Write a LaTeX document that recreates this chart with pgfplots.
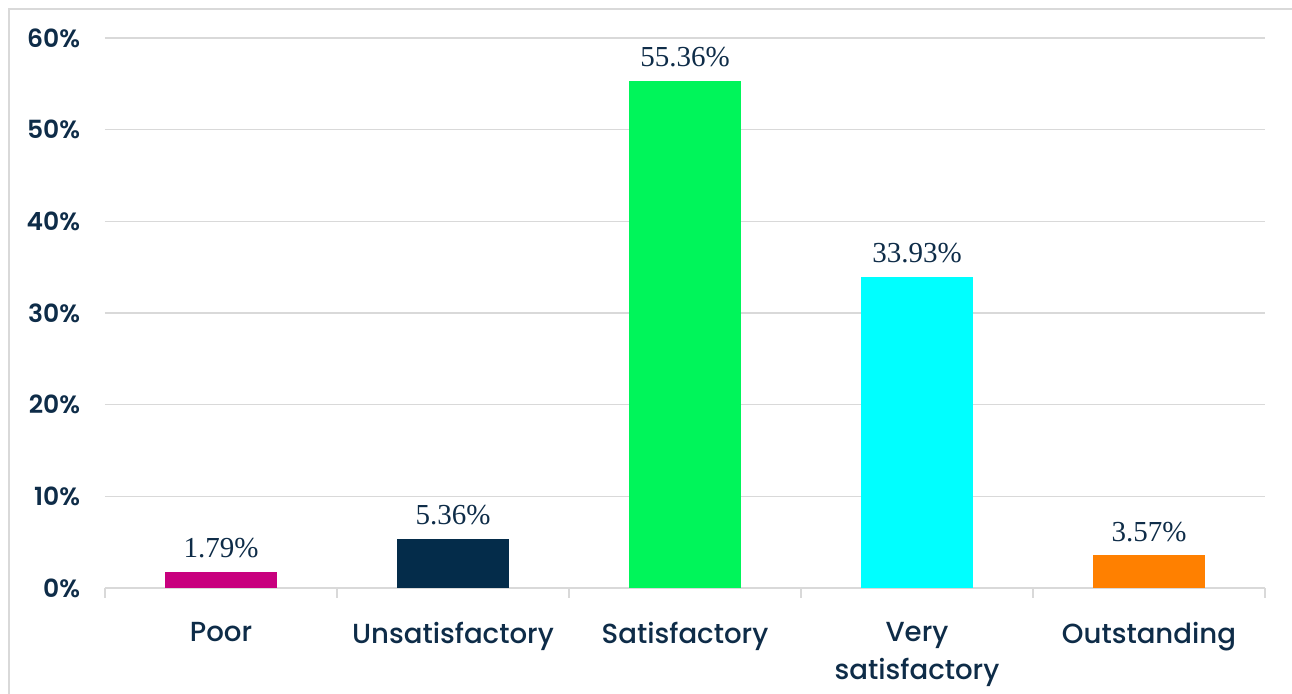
\documentclass[border=0pt]{standalone}
\usepackage{fontspec}
\setmainfont{Liberation Serif}
\newfontfamily\pop{Poppins SemiBold}
\newfontfamily\popm{Poppins Medium}
\usepackage{pgfplots}
\pgfplotsset{compat=1.18}
\definecolor{txt}{HTML}{0E2C48}
\definecolor{gridc}{HTML}{D9D9D9}
\definecolor{cpoor}{HTML}{C8007E}
\definecolor{cuns}{HTML}{042C4A}
\definecolor{csat}{HTML}{00F55A}
\definecolor{cvery}{HTML}{00FFFF}
\definecolor{cout}{HTML}{FF8000}
\begin{document}
\begin{tikzpicture}
\begin{axis}[
  at={(0,0)}, anchor=south west,
  scale only axis, width=580pt, height=275pt,
  xmin=-0.5, xmax=4.5, ymin=0, ymax=60,
  axis x line*=bottom, axis y line*=left,
  x axis line style={gridc, line width=0.75pt},
  y axis line style={draw=none},
  ybar, bar width=56pt,
  xtick={0,1,2,3,4},
  xticklabels={Poor,Unsatisfactory,Satisfactory,Very\\satisfactory,Outstanding},
  major x tick style={draw=none},
  minor xtick={-0.5,0.5,1.5,2.5,3.5,4.5},
  minor x tick style={gridc, line width=0.75pt},
  minor tick length=5pt, tick align=outside,
  xticklabel style={font=\popm\fontsize{13.8}{19}\selectfont, text=txt, align=center, anchor=north, inner sep=0pt, yshift=-12.5pt},
  ytick={0,10,...,60},
  yticklabel={\pgfmathprintnumber{\tick}\%},
  yticklabel style={font=\pop\fontsize{12.5}{15}\selectfont, text=txt, anchor=east, inner sep=0pt, xshift=-8pt},
  /pgf/number format/assume math mode=true,
  ymajorgrids, major grid style={gridc, line width=0.75pt},
  major y tick style={draw=none},
  point meta=explicit symbolic,
  nodes near coords,
  every node near coord/.append style={font=\fontsize{14.5}{17}\selectfont, text=txt, anchor=base, inner sep=0pt, yshift=7pt},
  clip=false,
]
\addplot[bar shift=0pt, fill=cpoor, draw=none] coordinates {(0,1.79) [1.79\%]};
\addplot[bar shift=0pt, fill=cuns, draw=none] coordinates {(1,5.36) [5.36\%]};
\addplot[bar shift=0pt, fill=csat, draw=none] coordinates {(2,55.36) [55.36\%]};
\addplot[bar shift=0pt, fill=cvery, draw=none] coordinates {(3,33.93) [33.93\%]};
\addplot[bar shift=0pt, fill=cout, draw=none] coordinates {(4,3.57) [3.57\%]};
\end{axis}
\pgfresetboundingbox
\useasboundingbox (-52.5pt,-53pt) rectangle (593.5pt,294pt);
\draw[gridc, line width=0.9pt] (-48pt,-53pt) -- (-48pt,289.5pt) -- (593.5pt,289.5pt);
\end{tikzpicture}
\end{document}
